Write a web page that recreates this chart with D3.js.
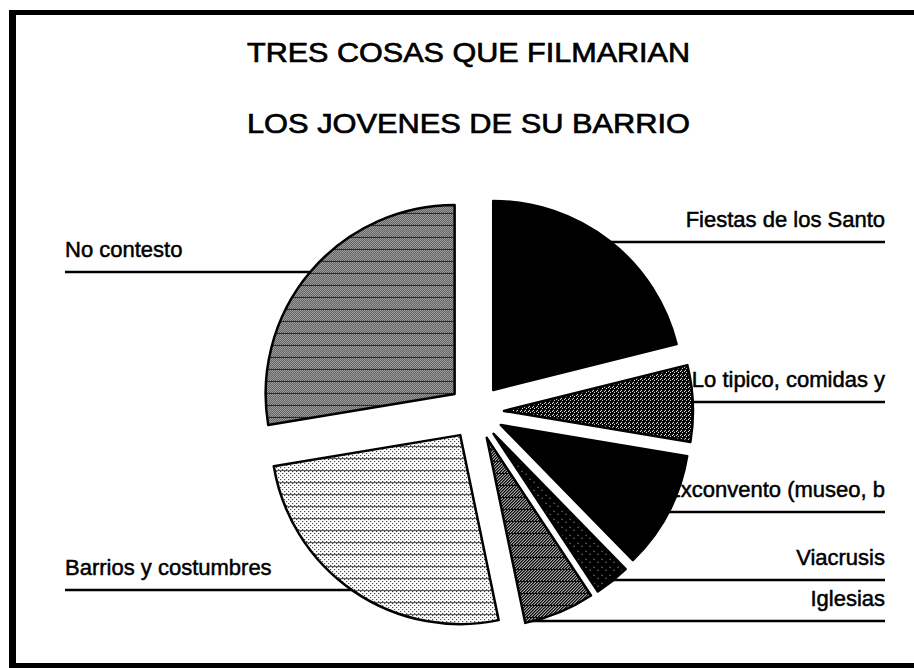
<!DOCTYPE html>
<html>
<head>
<meta charset="utf-8">
<script src="https://cdn.jsdelivr.net/npm/d3@7"></script>
<style>
  body { margin: 0; background: #fff; }
  svg { display: block; }
  text { font-family: Arial, "Liberation Sans", sans-serif; fill: #000; stroke: #000; }
</style>
</head>
<body>
<svg id="chart"></svg>
<script>
// ---- data (share of answers in %) ----
const titleLines = ['TRES COSAS QUE FILMARIAN', 'LOS JOVENES DE SU BARRIO'];
const categories = ['Fiestas de los Santo', 'Lo tipico, comidas y', 'Exconvento (museo, b',
                    'Viacrusis', 'Iglesias', 'Barrios y costumbres', 'No contesto'];
const values = [21, 6.5, 10, 3, 6, 25.5, 27.5];

// ---- layout / styling ----
const width = 914, height = 668;
const center = {x: 476, y: 412};
const radius = 189;
const explode = 28;
const fills = ['solid', 'dotsDark', 'solid', 'dotsDarker', 'hatch', 'light', 'medium'];
// leader line y and side for each label, in the order of categories
const labelLayout = [
  {side: 'right', y: 242},
  {side: 'right', y: 402},
  {side: 'right', y: 512},
  {side: 'right', y: 580},
  {side: 'right', y: 621},
  {side: 'left', y: 590},
  {side: 'left', y: 272}
];
const rightEdge = 885, leftEdge = 65;

const svg = d3.select('#chart')
    .attr('width', width)
    .attr('height', height);

svg.append('rect').attr('width', width).attr('height', height).attr('fill', '#fff');

// halftone-like fills, drawn pixel by pixel like the printed original
const defs = svg.append('defs');
function pattern(id, w, h, bg, ink, cells, lineRow, lineColor) {
  const p = defs.append('pattern')
      .attr('id', id)
      .attr('patternUnits', 'userSpaceOnUse')
      .attr('width', w)
      .attr('height', h)
      .attr('shape-rendering', 'crispEdges');
  p.append('rect').attr('width', w).attr('height', h).attr('fill', bg);
  for (let y = 0; y < h; y++) {
    for (let x = 0; x < w; x++) {
      if (cells(x, y)) p.append('rect').attr('x', x).attr('y', y).attr('width', 1).attr('height', 1).attr('fill', ink);
    }
  }
  if (lineRow != null) {
    p.append('rect').attr('x', 0).attr('y', lineRow).attr('width', w).attr('height', 1).attr('fill', lineColor);
  }
}
pattern('solid', 4, 4, '#000', '#000', () => false);
pattern('dotsDark', 4, 4, '#000', '#fff', (x, y) => (x === 0 && y === 0) || (x === 2 && y === 1) || (x === 1 && y === 3));
pattern('dotsDarker', 8, 8, '#000', '#bbb', (x, y) => (x === 0 && y === 0) || (x === 4 && y === 5));
pattern('hatch', 3, 12, '#000', '#fff', (x, y) => (x + y) % 3 === 0 && y % 12 !== 11);
pattern('medium', 2, 12, '#fff', '#000', (x, y) => (x + y) % 2 === 0, 11, '#222');
pattern('light', 4, 12, '#fff', '#000', (x, y) => (y % 2 === 0) && ((x + y) % 4 === 0), 11, '#555');

// frame (the right side of the original is cut off)
const frame = svg.append('g').attr('fill', '#000');
frame.append('rect').attr('x', 9).attr('y', 10).attr('width', 7).attr('height', height - 10);
frame.append('rect').attr('x', 9).attr('y', 10).attr('width', width - 9).attr('height', 5);
frame.append('rect').attr('x', 9).attr('y', 663).attr('width', width - 9).attr('height', 5);

// title
svg.append('g')
  .selectAll('text')
  .data(titleLines)
  .join('text')
    .attr('x', 247)
    .attr('y', (d, i) => 62 + i * 71)
    .attr('font-size', 28)
    .attr('stroke-width', 0.7)
    .attr('textLength', 443)
    .attr('lengthAdjust', 'spacingAndGlyphs')
    .text(d => d);

// pie
const data = categories.map((c, i) => ({name: c, value: values[i], fill: fills[i], layout: labelLayout[i]}));
const pie = d3.pie().sort(null).value(d => d.value);
const arc = d3.arc().innerRadius(0).outerRadius(radius);
const arcs = pie(data);

const offset = d => {
  const a = (d.startAngle + d.endAngle) / 2;
  return [Math.sin(a) * explode, -Math.cos(a) * explode];
};

// labels first: the slices cover the start of the long ones, as in the original
const labels = svg.append('g').attr('font-size', 22);
labels.selectAll('text')
  .data(arcs)
  .join('text')
    .attr('x', d => d.data.layout.side === 'right' ? rightEdge : leftEdge)
    .attr('y', d => d.data.layout.y - 15)
    .attr('text-anchor', d => d.data.layout.side === 'right' ? 'end' : 'start')
    .attr('stroke-width', 0.5)
    .text(d => d.data.name);

// leader lines from the slice rim to the label edge
labels.selectAll('line')
  .data(arcs)
  .join('line')
    .attr('x1', d => {
      const [ox, oy] = offset(d);
      const dy = d.data.layout.y - (center.y + oy);
      const dx = Math.sqrt(Math.max(0, radius * radius - dy * dy));
      return d.data.layout.side === 'right' ? center.x + ox + dx - 2 : center.x + ox - dx + 2;
    })
    .attr('x2', d => d.data.layout.side === 'right' ? rightEdge : leftEdge)
    .attr('y1', d => d.data.layout.y)
    .attr('y2', d => d.data.layout.y)
    .attr('stroke', '#000')
    .attr('stroke-width', 2.5);

const chart = svg.append('g')
    .attr('transform', `translate(${center.x},${center.y})`);

chart.selectAll('path')
  .data(arcs)
  .join('path')
    .attr('transform', d => `translate(${offset(d)})`)
    .attr('d', arc)
    .attr('fill', d => `url(#${d.data.fill})`)
    .attr('stroke', '#000')
    .attr('stroke-width', 2.5)
    .attr('stroke-linejoin', 'round');
</script>
</body>
</html>
